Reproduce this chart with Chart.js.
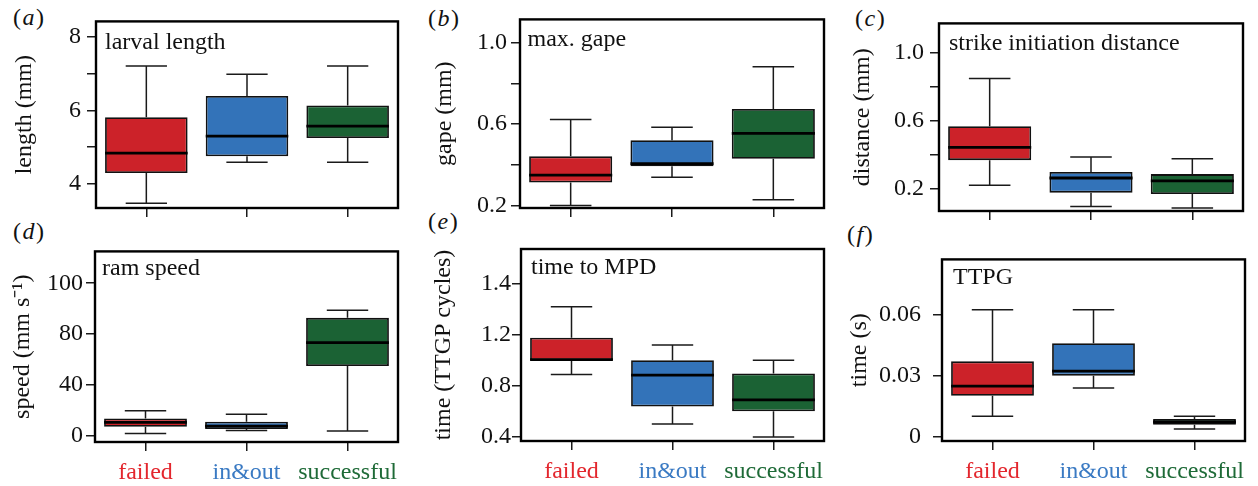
<!DOCTYPE html>
<html>
<head>
<meta charset="utf-8">
<script src="https://cdn.jsdelivr.net/npm/chart.js@4.4.1/dist/chart.umd.min.js"></script>
<style>
  body { margin: 0; background: #fff; width: 1258px; height: 486px; position: relative; overflow: hidden; }
  .panel { position: absolute; }
  .tag { position: absolute; font: 24px/24px 'Liberation Serif', 'Times New Roman', serif; letter-spacing: 1.5px; color: #111; white-space: nowrap; }
</style>
</head>
<body>
<div class="tag" style="left:13px;top:5px">(<i>a</i>)</div>
<div class="tag" style="left:428px;top:6px">(<i>b</i>)</div>
<div class="tag" style="left:855px;top:6px">(<i>c</i>)</div>
<div class="tag" style="left:13px;top:219px">(<i>d</i>)</div>
<div class="tag" style="left:428px;top:209px">(<i>e</i>)</div>
<div class="tag" style="left:847px;top:222px">(<i>f</i>)</div>

<script>
// ----- data -----
const groups = ['failed', 'in&out', 'successful'];

// five-number summaries [min, Q1, median, Q3, max] for failed, in&out, successful
const larvalLength   = [[3.48, 4.30, 4.84, 5.81, 7.20], [4.59, 4.75, 5.30, 6.39, 6.98], [4.59, 5.25, 5.57, 6.13, 7.20]];
const maxGape        = [[0.201, 0.314, 0.350, 0.442, 0.622], [0.340, 0.393, 0.406, 0.521, 0.585], [0.230, 0.430, 0.555, 0.674, 0.881]];
const strikeDistance = [[0.223, 0.370, 0.445, 0.570, 0.850], [0.098, 0.179, 0.265, 0.300, 0.388], [0.088, 0.171, 0.248, 0.288, 0.378]];
const ramSpeed       = [[1.9, 7.3, 10.7, 13.8, 19.8], [4.4, 5.5, 7.8, 11.2, 17.1], [3.9, 54.9, 73.3, 92.8, 98.8]];
const timeToMPD      = [[0.889, 1.0, 1.005, 1.176, 1.417], [0.502, 0.638, 0.884, 1.0, 1.119], [0.4, 0.601, 0.690, 0.897, 1.0]];
const ttpg           = [[0.0101, 0.0201, 0.0249, 0.0370, 0.0622], [0.024, 0.030, 0.0322, 0.0459, 0.0622], [0.0039, 0.0059, 0.0073, 0.0088, 0.0101]];

// y tick positions and their printed labels (blank = unlabelled minor tick)
const lengthTicks = [4, 5, 6, 7, 8];
const lengthTickLabels = ['4', '', '6', '', '8'];
const mmTicks = [0.2, 0.4, 0.6, 0.8, 1.0];
const mmTickLabels = ['0.2', '', '0.6', '', '1.0'];
const speedTicks = [0, 40, 80, 120];
const speedTickLabels = ['0', '40', '80', '100'];
const mpdTicks = [0.4, 0.8, 1.2, 1.6];
const mpdTickLabels = ['0.4', '0.8', '1.2', '1.4'];
const ttpgTicks = [0, 0.03, 0.06];
const ttpgTickLabels = ['0', '0.03', '0.06'];

// ----- styling -----
const boxFills = ['#CC2229', '#3373B9', '#1B6234'];
const groupColors = ['#E3262D', '#3A7AC3', '#1E6A37'];
const FONT = "'Liberation Serif', 'Times New Roman', serif";

Chart.defaults.font.family = FONT;
Chart.defaults.font.size = 24;
Chart.defaults.color = '#111';
Chart.defaults.animation = false;

// frame = [left, top, right, bottom] of the plotting box in page pixels
const panels = [
    { stats: larvalLength, title: 'larval length', yTitle: 'length (mm)', min: 3.35, max: 8.41,
      ticks: lengthTicks, tickLabels: lengthTickLabels, frame: [96, 17, 398, 208], titleOff: 71, tickPad: 6, label: [9, 27.5], bottom: false },
    { stats: maxGape, title: 'max. gape', yTitle: 'gape (mm)', min: 0.189, max: 1.113,
      ticks: mmTicks, tickLabels: mmTickLabels, frame: [520, 17, 824, 208], titleOff: 75, tickPad: 4, label: [7.5, 27], bottom: false },
    { stats: strikeDistance, title: 'strike initiation distance', yTitle: 'distance (mm)', min: 0.071, max: 1.174,
      ticks: mmTicks, tickLabels: mmTickLabels, frame: [939, 19, 1243, 211], titleOff: 76, tickPad: 6, label: [10, 27], bottom: false },
    { stats: ramSpeed, title: 'ram speed', yTitle: 'speed (mm s\u207B\u00B9)', min: -4.7, max: 145,
      ticks: speedTicks, tickLabels: speedTickLabels, frame: [95, 250, 398, 442], titleOff: 72, tickPad: 3, label: [7, 24], bottom: true },
    { stats: timeToMPD, title: 'time to MPD', yTitle: 'time (TTGP cycles)', min: 0.369, max: 1.869,
      ticks: mpdTicks, tickLabels: mpdTickLabels, frame: [521, 249, 824, 441], titleOff: 77, tickPad: 1, label: [10, 24.7], bottom: true },
    { stats: ttpg, title: 'TTPG', yTitle: 'time (s)', min: -0.002, max: 0.0869,
      ticks: ttpgTicks, tickLabels: ttpgTickLabels, frame: [942, 249, 1245, 441], titleOff: 82, tickPad: 12, label: [11, 25], bottom: true }
];

const Y_W = 100;   // width reserved for y axis
const PAD_T = 16;  // room above frame
const PAD_R = 14;
const X_H = 46;    // height reserved for x axis

// whiskers, medians, frame and in-panel title
const boxPlot = {
    id: 'boxPlot',
    beforeDatasetsDraw(chart, args, opts) {
        const { ctx, scales: { x, y } } = chart;
        const meta = chart.getDatasetMeta(0);
        ctx.save();
        ctx.strokeStyle = '#1a1a1a';
        ctx.lineWidth = 1.5;
        opts.stats.forEach((s, i) => {
            const cx = x.getPixelForValue(i);
            const half = meta.data[i].width / 4;
            const lo = y.getPixelForValue(s[0]);
            const q1 = y.getPixelForValue(s[1]);
            const q3 = y.getPixelForValue(s[3]);
            const hi = y.getPixelForValue(s[4]);
            ctx.beginPath();
            ctx.moveTo(cx, q1); ctx.lineTo(cx, lo);
            ctx.moveTo(cx - half, lo); ctx.lineTo(cx + half, lo);
            ctx.moveTo(cx, q3); ctx.lineTo(cx, hi);
            ctx.moveTo(cx - half, hi); ctx.lineTo(cx + half, hi);
            ctx.stroke();
        });
        ctx.restore();
    },
    afterDatasetsDraw(chart, args, opts) {
        const { ctx, scales: { x, y } } = chart;
        const meta = chart.getDatasetMeta(0);
        ctx.save();
        ctx.strokeStyle = '#000';
        ctx.lineWidth = 2.8;
        opts.stats.forEach((s, i) => {
            const cx = x.getPixelForValue(i);
            const w = meta.data[i].width / 2;
            const m = y.getPixelForValue(s[2]);
            ctx.beginPath();
            ctx.moveTo(cx - w, m); ctx.lineTo(cx + w, m);
            ctx.stroke();
        });
        ctx.restore();
    },
    afterDraw(chart, args, opts) {
        const { ctx, chartArea: a } = chart;
        ctx.save();
        ctx.strokeStyle = '#000';
        ctx.lineWidth = 2.4;
        ctx.strokeRect(a.left, a.top, a.right - a.left, a.bottom - a.top);
        ctx.fillStyle = '#111';
        ctx.font = '24px ' + FONT;
        ctx.textBaseline = 'alphabetic';
        ctx.fillText(opts.title, a.left + opts.label[0], a.top + opts.label[1]);
        ctx.restore();
    }
};

panels.forEach((p) => {
    const [fl, ft, fr, fb] = p.frame;
    const box = document.createElement('div');
    box.className = 'panel';
    box.style.left = (fl - Y_W) + 'px';
    box.style.top = (ft - PAD_T) + 'px';
    box.style.width = (fr - fl + Y_W + PAD_R) + 'px';
    box.style.height = (fb - ft + PAD_T + X_H) + 'px';
    const canvas = document.createElement('canvas');
    box.appendChild(canvas);
    document.body.appendChild(box);

    new Chart(canvas, {
        type: 'bar',
        data: {
            labels: groups,
            datasets: [{
                data: p.stats.map(s => [s[1], s[3]]),
                backgroundColor: boxFills,
                borderColor: '#111',
                borderWidth: 1.8,
                borderSkipped: false,
                barPercentage: 0.82,
                categoryPercentage: 1.0
            }]
        },
        options: {
            responsive: true,
            maintainAspectRatio: false,
            layout: { padding: { top: PAD_T, right: PAD_R, left: 0, bottom: 0 } },
            plugins: {
                legend: { display: false },
                tooltip: { enabled: false },
                boxPlot: { stats: p.stats, title: p.title, label: p.label }
            },
            scales: {
                x: {
                    offset: true,
                    grid: { offset: false, drawOnChartArea: false, drawTicks: true, tickLength: 9, color: '#1a1a1a', lineWidth: 1.5 },
                    border: { display: false },
                    ticks: {
                        autoSkip: false,
                        maxRotation: 0,
                        padding: 7,
                        color: (ctx) => groupColors[ctx.index],
                        callback: (v, i) => p.bottom ? groups[i] : ''
                    },
                    afterFit: (scale) => { scale.height = X_H; }
                },
                y: {
                    min: p.min,
                    max: p.max,
                    grid: { drawOnChartArea: false, drawTicks: true, tickLength: 9, color: '#1a1a1a', lineWidth: 1.5 },
                    border: { display: false },
                    ticks: {
                        autoSkip: false,
                        padding: p.tickPad,
                        callback: (v, i) => p.tickLabels[i]
                    },
                    afterBuildTicks: (scale) => { scale.ticks = p.ticks.map(v => ({ value: v })); },
                    title: {
                        display: true,
                        text: p.yTitle,
                        padding: { top: Y_W - p.titleOff - 14.4, bottom: 0 }
                    },
                    afterFit: (scale) => { scale.width = Y_W; }
                }
            }
        },
        plugins: [boxPlot]
    });
});
</script>
</body>
</html>
